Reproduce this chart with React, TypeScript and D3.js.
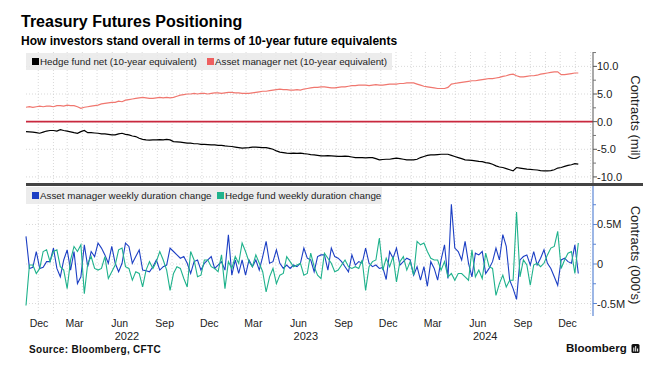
import React from 'react';
import * as d3 from 'd3';

// ---- data (weekly, starting 2021-12-07) ----
const START = Date.UTC(2021, 11, 7);
const WEEK_MS = 7 * 24 * 3600 * 1000;
const AXIS_END = Date.UTC(2025, 1, 6);

// Contracts (mil), 10-year equivalents
const hedgeFundNet = [
  -1.8, -1.85, -1.9, -2.0, -2.1, -1.9, -1.7, -1.6, -1.6, -1.7,
  -1.45, -1.6, -1.7, -1.85, -2.0, -2.1, -1.8, -1.6, -2.0, -2.0,
  -2.05, -2.1, -2.2, -2.2, -2.3, -2.4, -2.4, -2.2, -2.1,
  -2.3, -2.4, -2.6, -2.7, -3.0, -3.2, -3.3, -3.35, -3.3, -3.3,
  -3.25, -3.3, -3.2, -3.3, -3.6, -3.65, -3.7, -3.8, -3.9, -3.9,
  -4.0, -4.0, -4.1, -4.1, -4.15, -4.2, -4.2, -4.3, -4.3, -4.4,
  -4.45, -4.5, -4.6, -4.7, -4.8, -4.75, -4.7, -4.6, -4.6, -4.65,
  -4.7, -4.7, -4.85, -5.0, -5.3, -5.5, -5.6, -5.7, -5.75, -5.7,
  -5.75, -5.7, -5.8, -5.85, -5.95, -6.0, -6.1, -6.2, -6.2, -6.15,
  -6.2, -6.25, -6.3, -6.3, -6.25, -6.3, -6.4, -6.5, -6.5,
  -6.5, -6.55, -6.5, -6.5, -6.7, -6.9, -6.85, -6.8, -6.8, -6.7,
  -6.6, -6.7, -6.8, -6.9, -6.9, -6.9, -6.8, -6.5, -6.3, -6.1,
  -6.0, -6.0, -5.95, -5.9, -5.9, -5.9, -6.1, -6.3, -6.5, -6.7,
  -6.9, -6.95, -7.0, -7.1, -7.2, -7.25, -7.4, -7.5, -7.7, -8.0,
  -8.2, -8.3, -8.5, -8.7, -8.9, -8.3, -8.4, -8.5, -8.6, -8.65,
  -8.7, -8.75, -8.85, -8.9, -8.9, -8.85, -8.7, -8.4, -8.3,
  -8.1, -7.9, -7.8, -7.6, -7.7,
];

const assetManagerNet = [
  2.6, 2.7, 2.6, 2.7, 2.8, 2.7, 2.8, 2.8, 2.7, 2.9, 2.9, 2.8, 3.0, 2.9, 2.9, 2.7, 2.4,
  2.6, 2.7, 2.8, 2.9, 3.0, 3.2, 3.3, 3.4, 3.5, 3.5, 3.7, 3.6,
  3.9, 4.0, 4.1, 4.2, 4.3, 4.4, 4.3, 4.2, 4.2, 4.3, 4.4, 4.3, 4.4, 4.3, 4.4,
  4.6, 4.8, 4.9, 5.0, 5.0, 5.1, 5.0, 5.1, 5.1, 5.0, 5.1, 5.2, 5.2, 5.1, 5.2, 5.3, 5.3,
  5.2, 5.2, 5.1, 5.1, 5.1, 5.2, 5.3, 5.4, 5.5, 5.5, 5.6, 5.7, 5.8, 5.9,
  5.8, 5.8, 5.7, 5.7, 5.8, 5.7, 5.9, 6.0, 6.1, 6.2, 6.2, 6.3,
  6.3, 6.2, 6.1, 6.1, 6.2, 6.3, 6.3, 6.4, 6.5, 6.5, 6.6, 6.6,
  6.6, 6.5, 6.6, 6.7, 6.6, 6.6, 6.7, 6.8, 6.8, 6.8, 6.9, 6.9, 7.0, 7.0, 7.0,
  6.8, 6.6, 6.4, 6.3, 6.2, 6.1, 6.0, 6.0, 6.0, 6.2, 6.8,
  6.9, 7.0, 7.1, 7.2, 7.3, 7.4, 7.4, 7.5, 7.6, 7.7, 7.8, 7.8, 7.9, 8.0, 8.2, 8.3, 8.5, 8.6, 8.3, 8.1,
  8.1, 8.2, 8.3, 8.3, 8.4, 8.6, 8.7, 8.8, 8.9, 9.0, 9.0, 8.5, 8.5, 8.6, 8.7, 8.8, 8.8,
];

// Contracts (000's)
const assetManagerWeekly = [
  350, -56, -43, 158, -56, -43, 30, 30, 201, -56,
  -162, 51, 179, -77, 158, -248, -162, 243, -34, 158,
  94, 265, 201, 115, 9, 222, 9, -98, 9,
  265, 222, 9, 94, 179, -77, -85, -98, -34, 51,
  -77, -34, -13, 201, 158, 115, 73, 94, 9, -120,
  30, 51, -77, 9, 51, 94, -56, -13, 30, -77,
  371, -141, 51, -120, 51, -141, 51, -34, 51, -77,
  94, 286, 9, 30, 179, 9, -56, -13, -56, -13,
  -34, 9, 201, 73, 51, -98, 94, 115, 115, -77,
  201, 94, 73, 30, -34, -98, 115, -13, 30,
  9, 201, 9, -34, -13, -56, -43, -196, 158, 73,
  201, -13, 30, 73, 51, -141, -34, -205, -34, -282,
  30, -56, -205, 51, 243, -184, 756, 201, 158, 51,
  286, 9, -162, 137, 115, 158, -120, -56, 30, 201,
  51, 371, 222, -205, -312, -448, 51, 94, 115, -13,
  158, -13, 73, 179, 9, -56, -162, -269, 51,
  73, 30, 9, 243, -120,
];

const hedgeFundWeekly = [
  -525, -13, -13, -120, -56, 158, 179, 30, 158, 179,
  -34, -77, -312, 51, 222, 158, 243, -376, 9, 94,
  -56, -77, -56, 94, -184, -98, -13, 179, 201,
  -34, -56, -205, -98, -120, -290, -77, 30, -56, 30,
  158, 51, -77, -333, -120, -34, -56, -184, -290, 158,
  51, -162, -141, 51, 51, -34, -56, -98, 115, -312,
  30, -56, 94, 9, 265, 158, 30, -34, 115, 9,
  -98, -354, -162, -56, -248, -141, -120, 94, 30, -34,
  -13, 9, -141, -120, 137, -34, -141, -184, 137, 73,
  9, -98, -77, -13, 51, -34, -56, -34, -56,
  51, -333, -34, 30, 51, 329, -77, 73, -34, 94,
  -226, 30, 94, -77, 30, -141, 286, 243, 265, 158,
  73, 51, 51, -77, 30, -162, -120, -205, -120, -120,
  -162, -205, 179, -162, -77, -184, 137, -34, -56, -397,
  -248, -141, -290, -205, -205, 658, -162, 51, -13, -269,
  -13, 9, -34, 9, 115, 201, 222, 414, -56,
  51, 137, 158, -120, 265,
];

const topTicks = [10, 5, 0, -5, -10];
const topTickLabels = ['10.0', '5.0', '0.0', '-5.0', '-10.0'];
const topMinorTicks = [12.5, 7.5, 2.5, -2.5, -7.5];
const bottomTicks = [500, 0, -500];
const bottomTickLabels = ['0.5M', '0', '-0.5M'];
const bottomMinorTicks = [750, 250, -250];

const topLegend = ['Hedge fund net (10-year equivalent)', 'Asset manager net (10-year equivalent)'];
const bottomLegend = ['Asset manager weekly duration change', 'Hedge fund weekly duration change'];

const C = {
  hf: '#000000',
  am: '#f0776f',
  amSq: '#ee5f5f',
  blue: '#1c3fc4',
  green: '#1fb28c',
  zero: '#c9283e',
  grid: '#cfcfcf',
  legendBg: '#e9e9e9',
  axisBlue: '#5b86d6',
};

const FONT = "'Liberation Sans', Arial, sans-serif";

export default function App() {
  const W = 664, H = 369;
  const L = 26, R = 593;
  const dates = hedgeFundNet.map((_, i) => new Date(START + i * WEEK_MS));

  const x = d3.scaleUtc().domain([new Date(START), new Date(AXIS_END)]).range([L, R]);
  const yTop = d3.scaleLinear().domain([-11.1, 12.6]).range([183, 52]);
  const yBot = d3.scaleLinear().domain([-658, 987]).range([316, 186]);

  const lineTop = (vals: number[]) =>
    d3.line<number>().x((_, i) => x(dates[i])).y((d) => yTop(d))(vals) || '';
  const lineBot = (vals: number[]) =>
    d3.line<number>().x((_, i) => x(dates[i])).y((d) => yBot(d))(vals) || '';

  const months = d3.utcMonth.range(d3.utcMonth.ceil(new Date(START)), new Date(AXIS_END));
  const quarterLabels = d3.utcMonth
    .range(d3.utcMonth.floor(new Date(START)), new Date(AXIS_END))
    .filter((d) => d.getUTCMonth() % 3 === 2);
  const yearLabels = d3.utcYear
    .range(d3.utcYear.ceil(new Date(START)), new Date(AXIS_END))
    .filter((yv) => x(d3.utcMonth.offset(yv, 6)) < R);
  const fmtMonth = d3.utcFormat('%b');
  const fmtYear = d3.utcFormat('%Y');

  return (
    <svg
      width={W}
      height={H}
      style={{ position: 'absolute', left: 0, top: 0, background: '#fff' }}
      fontFamily={FONT}
    >
      <rect x={0} y={0} width={W} height={H} fill="#fff" />
      {/* Titles */}
      <text x={21} y={27} fontSize={16} fontWeight="bold" fill="#000">Treasury Futures Positioning</text>
      <text x={21} y={44.5} fontSize={12} fontWeight="bold" fill="#000">
        How investors stand overall in terms of 10-year future equivalents
      </text>

      {/* vertical month gridlines */}
      {months.map((m, i) => (
        <line key={'vg' + i} x1={x(m)} x2={x(m)} y1={52} y2={316}
          stroke={C.grid} strokeWidth={0.8} strokeDasharray="1,2" />
      ))}
      {/* horizontal gridlines */}
      {topTicks.map((t, i) => (
        <line key={'hgt' + i} x1={L} x2={R} y1={yTop(t)} y2={yTop(t)}
          stroke={C.grid} strokeWidth={0.8} strokeDasharray="1,2" />
      ))}
      {bottomTicks.map((t, i) => (
        <line key={'hgb' + i} x1={L} x2={R} y1={yBot(t)} y2={yBot(t)}
          stroke={C.grid} strokeWidth={0.8} strokeDasharray="1,2" />
      ))}

      {/* legends */}
      <rect x={L} y={53} width={366} height={17} fill={C.legendBg} opacity={0.85} />
      <rect x={32} y={58} width={7} height={7} fill={C.hf} />
      <text x={40} y={65} fontSize={9.8} fill="#222">{topLegend[0]}</text>
      <rect x={207} y={58} width={7} height={7} fill={C.amSq} />
      <text x={215} y={65} fontSize={9.8} fill="#222">{topLegend[1]}</text>

      <rect x={L} y={187} width={356} height={17} fill={C.legendBg} opacity={0.85} />
      <rect x={32} y={192} width={7} height={7} fill={C.blue} />
      <text x={40} y={199} fontSize={9.8} fill="#222">{bottomLegend[0]}</text>
      <rect x={217} y={192} width={7} height={7} fill={C.green} />
      <text x={225} y={199} fontSize={9.8} fill="#222">{bottomLegend[1]}</text>

      {/* zero line top */}
      <line x1={L} x2={R} y1={yTop(0)} y2={yTop(0)} stroke={C.zero} strokeWidth={1.6} />

      {/* top series */}
      <path d={lineTop(hedgeFundNet)} fill="none" stroke={C.hf} strokeWidth={1.2} />
      <path d={lineTop(assetManagerNet)} fill="none" stroke={C.am} strokeWidth={1.2} />

      {/* bottom series */}
      <path d={lineBot(assetManagerWeekly)} fill="none" stroke={C.blue} strokeWidth={1.1} />
      <path d={lineBot(hedgeFundWeekly)} fill="none" stroke={C.green} strokeWidth={1.1} />

      {/* separator */}
      <line x1={L} x2={643} y1={184.5} y2={184.5} stroke="#444" strokeWidth={3} />

      {/* right axis top */}
      <line x1={R} x2={R} y1={52} y2={183} stroke="#555" strokeWidth={1} />
      {topTicks.map((t, i) => (
        <g key={'tt' + i}>
          <line x1={R} x2={R + 4} y1={yTop(t)} y2={yTop(t)} stroke="#555" />
          <text x={597} y={yTop(t) + 4} fontSize={11} fill="#222">{topTickLabels[i]}</text>
        </g>
      ))}
      {topMinorTicks.map((t, i) => (
        <line key={'tm' + i} x1={R} x2={R + 3} y1={yTop(t)} y2={yTop(t)} stroke="#777" />
      ))}
      <text transform={`translate(631,117.5) rotate(90)`} textAnchor="middle" fontSize={13} fill="#222">
        Contracts (mil)
      </text>

      {/* right axis bottom */}
      <line x1={R} x2={R} y1={186} y2={316} stroke={C.axisBlue} strokeWidth={1.2} />
      {bottomTicks.map((t, i) => (
        <g key={'bt' + i}>
          <line x1={R} x2={R + 4} y1={yBot(t)} y2={yBot(t)} stroke={C.axisBlue} />
          <text x={597} y={yBot(t) + 4} fontSize={11} fill="#222">{bottomTickLabels[i]}</text>
        </g>
      ))}
      {bottomMinorTicks.map((t, i) => (
        <line key={'bm' + i} x1={R} x2={R + 3} y1={yBot(t)} y2={yBot(t)} stroke={C.axisBlue} />
      ))}
      <text transform={`translate(631,255) rotate(90)`} textAnchor="middle" fontSize={13} fill="#222">
        Contracts (000's)
      </text>

      {/* x axis labels */}
      {quarterLabels.map((m, i) => {
        const mid = x(d3.utcDay.offset(m, 15));
        const cx = Math.max(mid, L + 13);
        return (
          <text key={'ql' + i} x={cx} y={327} textAnchor="middle" fontSize={10.5} fill="#222">
            {fmtMonth(m)}
          </text>
        );
      })}
      {yearLabels.map((yv, i) => (
        <text key={'yl' + i} x={x(d3.utcMonth.offset(yv, 6))} y={339.5} textAnchor="middle" fontSize={11} fill="#222">
          {fmtYear(yv)}
        </text>
      ))}

      {/* footer */}
      <text x={29} y={353} fontSize={10} fontWeight="bold" fill="#111" letterSpacing={0.3}>Source: Bloomberg, CFTC</text>
      <text x={566} y={352} fontSize={11.5} fontWeight="bold" fill="#111">Bloomberg</text>
      <rect x={631.5} y={344} width={8} height={9} rx={1.5} fill="#111" />
      <rect x={633.3} y={347.5} width={1} height={4} fill="#fff" />
      <rect x={635.2} y={346} width={1} height={5.5} fill="#fff" />
      <rect x={637.1} y={348.5} width={1} height={3} fill="#fff" />
    </svg>
  );
}
